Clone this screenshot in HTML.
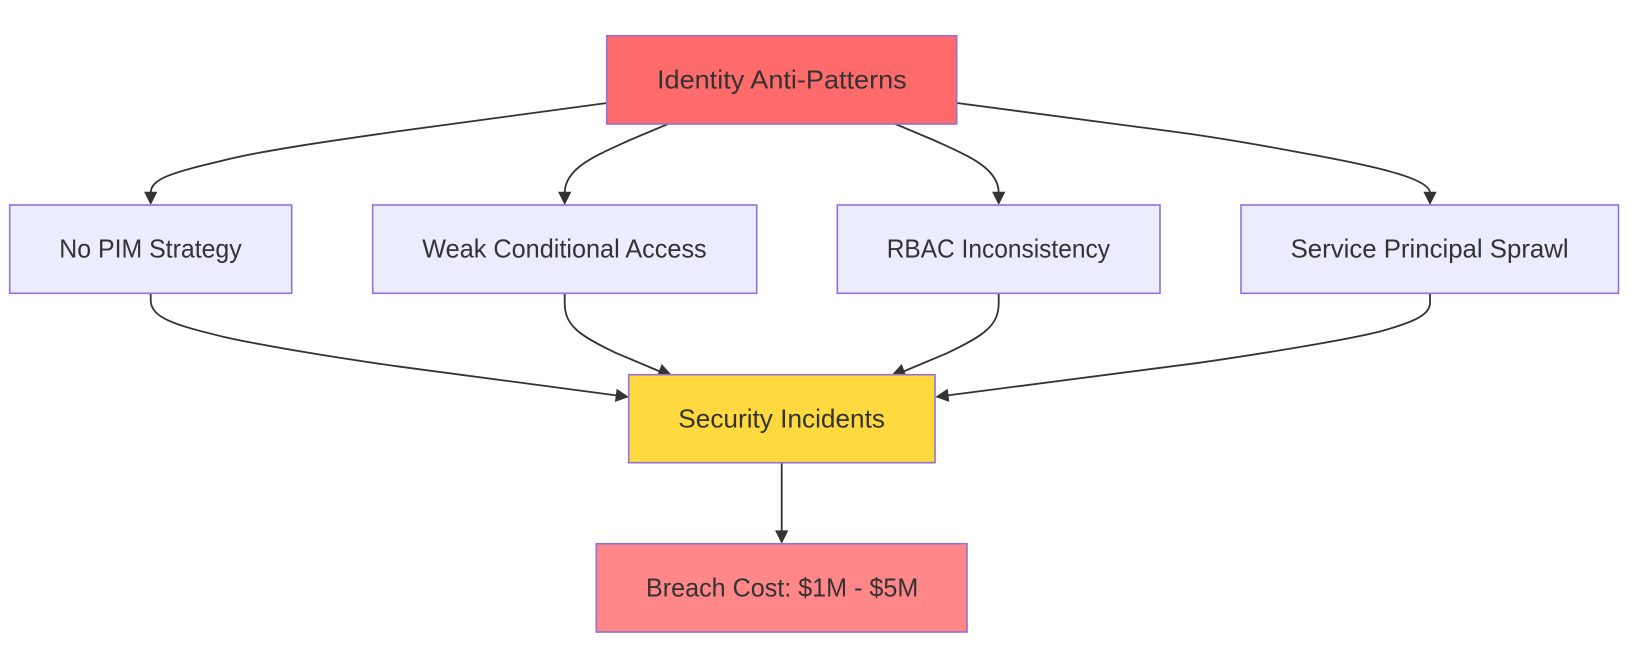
<!DOCTYPE html>
<html>
<head>
<meta charset="utf-8">
<style>
html,body{margin:0;padding:0;background:#fff;width:1630px;height:655px;overflow:hidden}
svg{display:block}
.e{fill:none;stroke:#333;stroke-width:1.8}
.n{stroke:#9370DB;stroke-width:1.6}
.t{font-family:"Liberation Sans",sans-serif;font-size:26px;fill:#333}
.a{fill:#333}
</style>
</head>
<body>
<svg width="1630" height="655" viewBox="0 0 1630 655" xmlns="http://www.w3.org/2000/svg">
<path class="e" d="M607,103 L400,131 C330,141 260,151 223,160.5 C175,172 150.7,178 150.7,193"/>
<path class="e" d="M668,124 L630,140 C595,156 564.7,168 564.7,193"/>
<path class="e" d="M895.4,124 L933.4,140 C968.4,156 998.7,168 998.7,193"/>
<path class="e" d="M957,103 L1180,132.5 C1220,138 1260,145 1300,152.5 C1370,165 1430,178 1430,193"/>
<path class="e" d="M150.7,293.3 L150.7,300 C150.7,318 175,325 223,336.7 C260,345 330,357 400,366.7 L618,395.6"/>
<path class="e" d="M564.7,293.3 L564.7,303 C564.7,325 578,335 616.7,353.3 L660,371.5"/>
<path class="e" d="M998.7,293.3 L998.7,303 C998.7,325 985.4,335 946.7,353.3 L903.4,371.5"/>
<path class="e" d="M1430,293.3 L1430,303 C1430,316 1410,323 1380,331.5 C1350,339 1280,351 1200,362.7 L946,395.6"/>
<path class="e" d="M781.7,462.7 L781.7,532"/>

<g class="a">
<polygon points="-13.3,-6.65 0,0 -13.3,6.65" transform="translate(150.7,205) rotate(90)"/>
<polygon points="-13.3,-6.65 0,0 -13.3,6.65" transform="translate(564.7,205) rotate(90)"/>
<polygon points="-13.3,-6.65 0,0 -13.3,6.65" transform="translate(998.7,205) rotate(90)"/>
<polygon points="-13.3,-6.65 0,0 -13.3,6.65" transform="translate(1430,205) rotate(90)"/>
<polygon points="-13.3,-6.65 0,0 -13.3,6.65" transform="translate(629,397) rotate(7.35)"/>
<polygon points="-13.3,-6.65 0,0 -13.3,6.65" transform="translate(671.7,375) rotate(21)"/>
<polygon points="-13.3,-6.65 0,0 -13.3,6.65" transform="translate(891.7,375) rotate(159)"/>
<polygon points="-13.3,-6.65 0,0 -13.3,6.65" transform="translate(935.3,397) rotate(172.65)"/>
<polygon points="-13.3,-6.65 0,0 -13.3,6.65" transform="translate(781.7,543.7) rotate(90)"/>
</g>

<rect class="n" x="606.7" y="35.7" width="350" height="88.3" fill="#ff6b6b"/>
<rect class="n" x="9.7" y="205" width="282" height="88.3" fill="#ECECFF"/>
<rect class="n" x="372.7" y="205" width="384" height="88.3" fill="#ECECFF"/>
<rect class="n" x="837.3" y="205" width="322.7" height="88.3" fill="#ECECFF"/>
<rect class="n" x="1241" y="205" width="377.5" height="88.3" fill="#ECECFF"/>
<rect class="n" x="628.7" y="374.7" width="306.3" height="88" fill="#ffd93d"/>
<rect class="n" x="596.3" y="543.7" width="370.7" height="88.3" fill="#ff8787"/>

<text class="t" x="657" y="88.3" textLength="249.7" lengthAdjust="spacingAndGlyphs">Identity Anti-Patterns</text>
<text class="t" x="59.3" y="257.3" textLength="182.4" lengthAdjust="spacingAndGlyphs">No PIM Strategy</text>
<text class="t" x="422.3" y="257.3" textLength="284.4" lengthAdjust="spacingAndGlyphs">Weak Conditional Access</text>
<text class="t" x="886.7" y="257.3" textLength="223.3" lengthAdjust="spacingAndGlyphs">RBAC Inconsistency</text>
<text class="t" x="1290.6" y="257.3" textLength="278" lengthAdjust="spacingAndGlyphs">Service Principal Sprawl</text>
<text class="t" x="678.3" y="427.3" textLength="206.7" lengthAdjust="spacingAndGlyphs">Security Incidents</text>
<text class="t" x="646" y="596.7" textLength="272.3" lengthAdjust="spacingAndGlyphs">Breach Cost: $1M - $5M</text>
</svg>
</body>
</html>
